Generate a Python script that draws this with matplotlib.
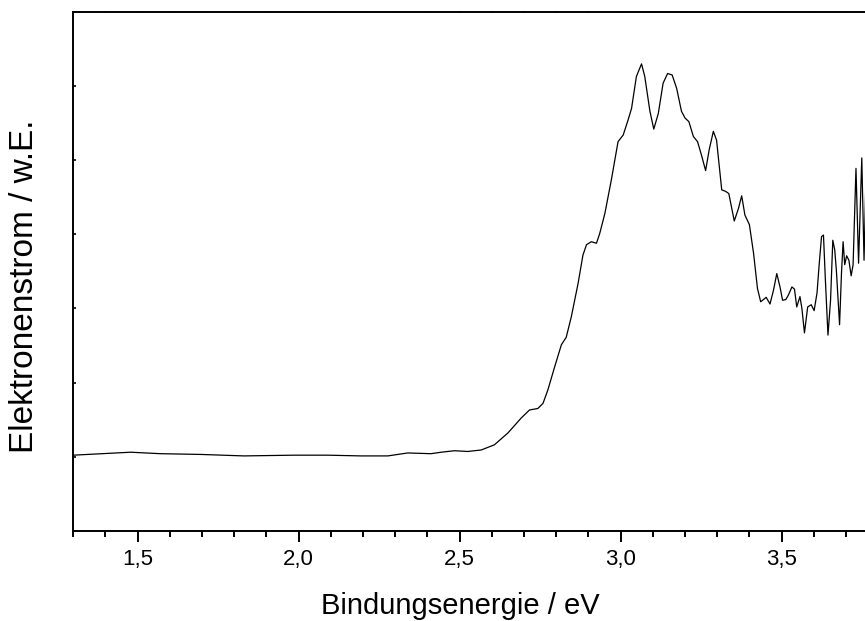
import numpy as np
import matplotlib
matplotlib.use("Agg")
import matplotlib.pyplot as plt
import matplotlib.ticker as ticker

plt.rcParams['font.family'] = ['Liberation Sans', 'DejaVu Sans']

# Photoelektronenspektrum: Bindungsenergie (eV) und Elektronenstrom (w.E.)
energie = [1.300, 1.478, 1.571, 1.696, 1.830, 1.986, 2.090, 2.194, 2.277, 2.339,
           2.411, 2.443, 2.484, 2.525, 2.567, 2.608, 2.650, 2.691, 2.717, 2.743,
           2.759, 2.774, 2.795, 2.816, 2.831, 2.847, 2.868, 2.883, 2.894, 2.909,
           2.925, 2.935, 2.951, 2.971, 2.992, 3.008, 3.023, 3.034, 3.049, 3.065,
           3.075, 3.091, 3.103, 3.117, 3.132, 3.146, 3.160, 3.174, 3.189, 3.200,
           3.212, 3.226, 3.239, 3.251, 3.264, 3.275, 3.288, 3.298, 3.314, 3.326,
           3.336, 3.353, 3.366, 3.376, 3.386, 3.400, 3.413, 3.425, 3.435, 3.452,
           3.464, 3.475, 3.485, 3.495, 3.503, 3.513, 3.521, 3.532, 3.540, 3.547,
           3.557, 3.563, 3.571, 3.581, 3.592, 3.601, 3.610, 3.617, 3.624, 3.630,
           3.636, 3.644, 3.652, 3.659, 3.665, 3.670, 3.680, 3.686, 3.691, 3.696,
           3.702, 3.709, 3.716, 3.722, 3.731, 3.739, 3.749, 3.756, 3.765]
strom = [1.02, 1.06, 1.04, 1.03, 1.01, 1.02, 1.02, 1.01, 1.01, 1.05,
         1.04, 1.06, 1.08, 1.07, 1.09, 1.16, 1.32, 1.52, 1.63, 1.65,
         1.72, 1.90, 2.21, 2.51, 2.61, 2.89, 3.34, 3.72, 3.86, 3.90,
         3.88, 4.01, 4.28, 4.73, 5.25, 5.34, 5.54, 5.70, 6.13, 6.30,
         6.13, 5.66, 5.42, 5.63, 6.04, 6.17, 6.15, 5.97, 5.66, 5.57,
         5.52, 5.32, 5.25, 5.07, 4.86, 5.14, 5.39, 5.27, 4.60, 4.58,
         4.55, 4.18, 4.35, 4.52, 4.26, 4.13, 3.74, 3.27, 3.09, 3.15,
         3.06, 3.25, 3.47, 3.29, 3.11, 3.12, 3.18, 3.29, 3.26, 3.02,
         3.16, 3.00, 2.67, 3.02, 3.05, 2.97, 3.21, 3.61, 3.97, 3.99,
         3.38, 2.64, 3.11, 3.92, 3.79, 3.52, 2.78, 3.48, 3.90, 3.59,
         3.71, 3.65, 3.44, 3.59, 4.89, 3.61, 5.03, 3.65, 5.34]

fig = plt.figure(figsize=(8.65, 6.21), dpi=100)
ax = fig.add_axes([0.0847, 0.1453, 0.9153, 0.8354])

ax.plot(energie, strom, color="black", linewidth=0.9, solid_joinstyle="round")

ax.set_xlim(1.3, 3.759)
ax.set_ylim(0, 7)

# x-Achse: Hauptstriche alle 0,5 eV, Nebenstriche alle 0,1 eV, Dezimalkomma
ax.xaxis.set_major_locator(ticker.MultipleLocator(0.5))
ax.xaxis.set_minor_locator(ticker.MultipleLocator(0.1))
ax.xaxis.set_major_formatter(ticker.FuncFormatter(lambda v, p: f"{v:.1f}".replace(".", ",")))
ax.tick_params(axis="x", which="major", direction="out", length=8, width=1.4,
               labelsize=16, pad=5, top=True)
ax.tick_params(axis="x", which="minor", direction="out", length=4.5, width=1.4, top=True)

# y-Achse ohne Beschriftung, nur kurze Striche
ax.yaxis.set_major_locator(ticker.MultipleLocator(1))
ax.yaxis.set_major_formatter(ticker.NullFormatter())
ax.tick_params(axis="y", which="major", direction="in", length=2, width=1.2)

# Striche oben nur angedeutet
for t in ax.xaxis.get_major_ticks() + ax.xaxis.get_minor_ticks():
    t.tick2line.set_markersize(1.0)

for side in ["left", "bottom", "top"]:
    ax.spines[side].set_linewidth(1.4)
ax.spines["right"].set_visible(False)

# Achsentitel frei platziert
fig.text(0.5324, 0.0113, "Bindungsenergie / eV", fontsize=21,
         ha="center", va="baseline")
fig.text(0.0385, 0.5395, "Elektronenstrom / w.E.", fontsize=24,
         ha="center", va="baseline", rotation=90, rotation_mode="anchor")

fig.savefig("out.png", dpi=100)
